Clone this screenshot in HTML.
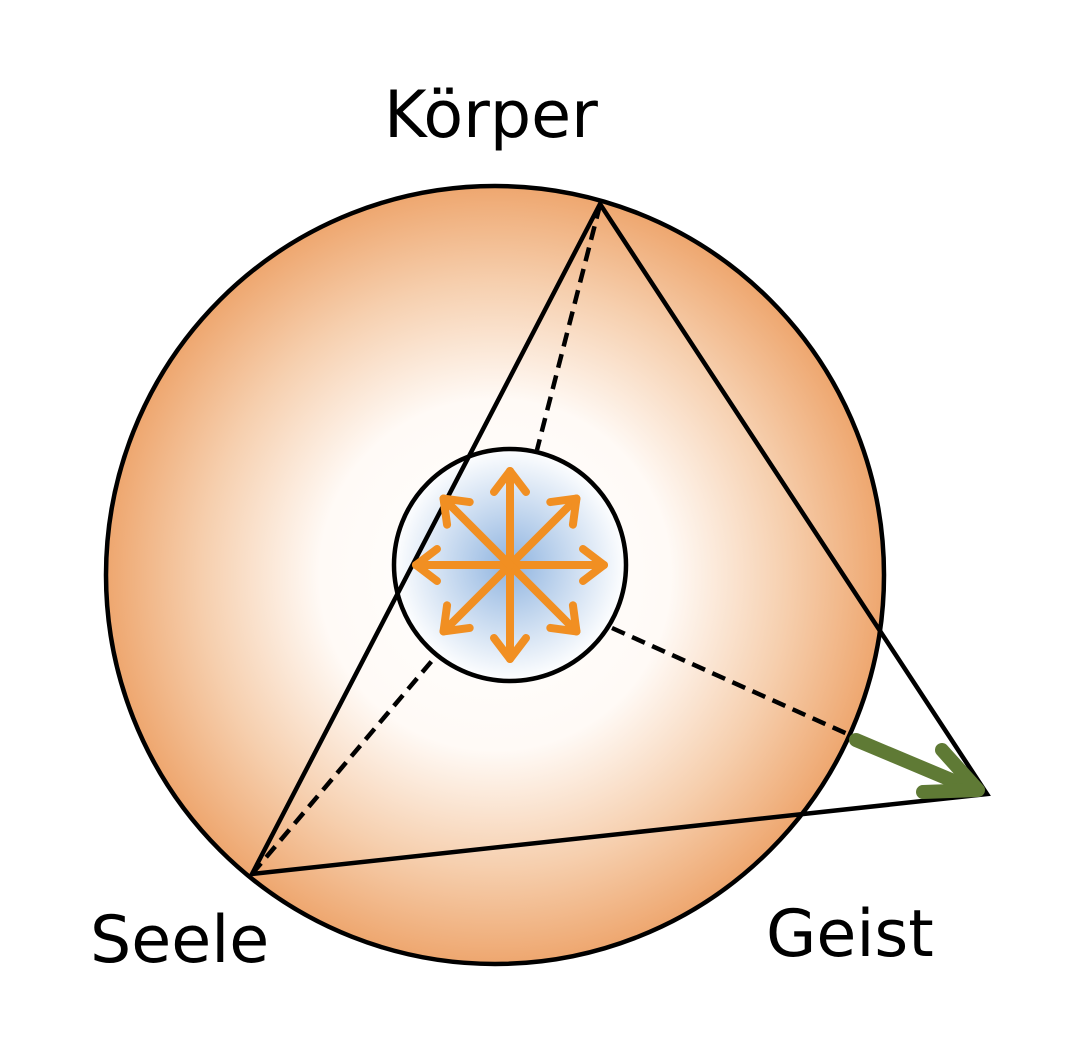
<!DOCTYPE html>
<html><head><style>
html,body{margin:0;padding:0;background:#fff;}
svg{display:block;}
text{font-family:"DejaVu Sans","Liberation Sans",sans-serif;font-size:65px;fill:#000;}
</style></head><body>
<svg width="1070" height="1060" viewBox="0 0 1070 1060">
<defs>
<radialGradient id="g1" cx="495" cy="575" r="390" gradientUnits="userSpaceOnUse">
<stop offset="0" stop-color="#fff"/>
<stop offset="0.45" stop-color="#fffaf6"/>
<stop offset="0.75" stop-color="#f6cfae"/>
<stop offset="1" stop-color="#eea66e"/>
</radialGradient>
<radialGradient id="g2" cx="510" cy="565" r="117" gradientUnits="userSpaceOnUse">
<stop offset="0" stop-color="#8fb4e0"/>
<stop offset="1" stop-color="#ffffff"/>
</radialGradient>
</defs>
<circle cx="495" cy="575" r="389" fill="url(#g1)" stroke="#000" stroke-width="4.5"/>
<g stroke="#000" stroke-width="4.5" stroke-dasharray="14,8" fill="none">
<line x1="600" y1="205" x2="537" y2="450"/>
<line x1="252" y1="874" x2="436" y2="656"/>
<line x1="612" y1="628" x2="852" y2="736"/>
</g>
<circle cx="510" cy="565" r="116" fill="url(#g2)" stroke="#000" stroke-width="4.5"/>
<polygon points="600,204 252,874 987,794" fill="none" stroke="#000" stroke-width="4.5" stroke-linejoin="miter"/>
<g stroke="#f18f22" stroke-width="8" fill="none" stroke-linecap="round" stroke-linejoin="round">
<g id="a"><line x1="510" y1="565" x2="510" y2="471"/><polyline points="494,492 510,471 526,492"/></g>
<use href="#a" transform="rotate(45 510 565)"/>
<use href="#a" transform="rotate(90 510 565)"/>
<use href="#a" transform="rotate(135 510 565)"/>
<use href="#a" transform="rotate(180 510 565)"/>
<use href="#a" transform="rotate(225 510 565)"/>
<use href="#a" transform="rotate(270 510 565)"/>
<use href="#a" transform="rotate(315 510 565)"/>
</g>
<g stroke="#5f7a35" stroke-width="14" fill="none" stroke-linecap="round" stroke-linejoin="round">
<line x1="856" y1="740" x2="975" y2="790"/>
<polyline points="942,750 978,790 923,792"/>
</g>
<text x="384" y="137">Körper</text>
<text x="90" y="962">Seele</text>
<text x="766" y="956">Geist</text>
</svg>
</body></html>
